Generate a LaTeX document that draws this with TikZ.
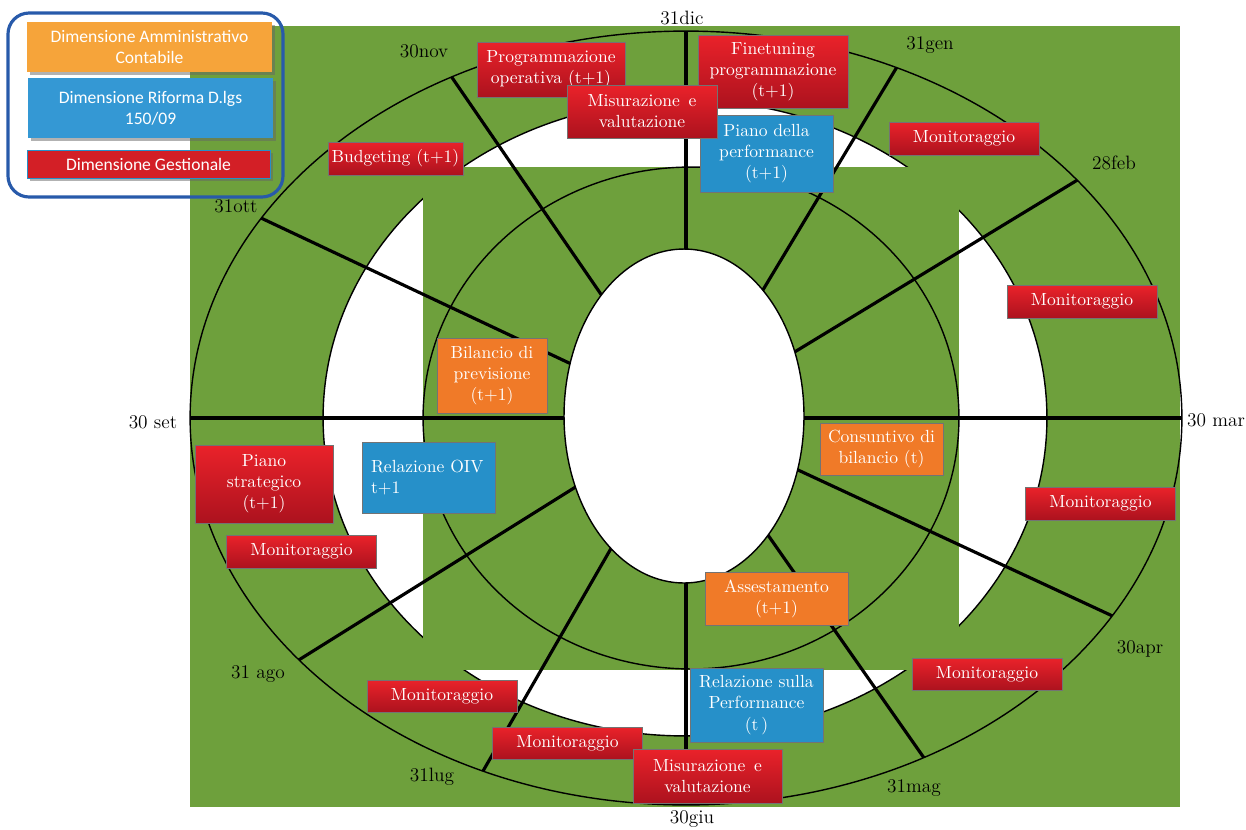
\documentclass[tikz,border=0pt]{standalone}
\usepackage{fontspec}
\newfontfamily\legendfont{Carlito}
\usetikzlibrary{positioning,shadows}
\definecolor{fondo}{RGB}{110,160,60}
\definecolor{rosso}{RGB}{234,34,42}
\definecolor{rossoscuro}{RGB}{172,18,30}
\definecolor{azzurro}{RGB}{38,144,201}
\definecolor{arancio}{RGB}{240,122,40}
\definecolor{legarancio}{RGB}{246,164,58}
\definecolor{legazzurro}{RGB}{52,152,212}
\definecolor{cornice}{RGB}{40,90,170}

\begin{document}
\begin{tikzpicture}[x=0.02cm, y=-0.02cm,
  mese/.style={inner sep=1pt, font=\fontsize{11}{13}\selectfont},
  casella/.style={text=white, align=center, inner sep=1pt, draw=black!55, line width=0.4pt},
  boxrossa/.style={casella, top color=rosso, bottom color=rossoscuro},
  boxazzurra/.style={casella, fill=azzurro},
  boxarancio/.style={casella, fill=arancio},
  monit/.style={boxrossa, minimum width=3cm, minimum height=0.66cm},
  legenda/.style={font=\legendfont, text=white, align=center, inner sep=1pt,
    drop shadow={shadow xshift=1.5pt, shadow yshift=-1.5pt, fill=black!60}},
  raggio/.style={line width=1.8pt},
  ellisse/.style={line width=0.8pt}]

\useasboundingbox (0,0) rectangle (1246,829);

% sfondo e anelli
\fill[fondo] (190,26) rectangle (1180,807);
\filldraw[fill=white, draw=black, ellisse] (685,418) ellipse [x radius=7.24cm, y radius=6.36cm];
\fill[fondo] (423,167) rectangle (959,670);
\draw[ellisse] (691,418) ellipse [x radius=5.36cm, y radius=5.02cm];
\draw[ellisse] (686,418) ellipse [x radius=9.92cm, y radius=7.74cm];

% raggi dei mesi
\coordinate (centro) at (686,418);
\begin{scope}
\clip (centro) ellipse [x radius=9.92cm, y radius=7.74cm];
\foreach \a in {-90,-59,-31.3,0,24.9,55,90,119.9,148,180,-154.8,-124.5}
  \draw[raggio] (centro) -- ++(\a:600);
\end{scope}
\filldraw[fill=white, draw=black, ellisse] (684,416) ellipse [x radius=2.4cm, y radius=3.34cm];

% mesi
\node[mese] (dic) at (682,18) {31dic};
\node[mese] (gen) at (930,45) {31gen};
\node[mese] (feb) at (1114,163) {28feb};
\node[mese] (mar) at (1216,420) {30 mar};
\node[mese] (apr) at (1140,649) {30apr};
\node[mese] (mag) at (914,788) {31mag};
\node[mese] (giu) at (692,819) {30giu};
\node[mese] (lug) at (432,777) {31lug};
\node[mese] (ago) at (258,674) {31 ago};
\node[mese] (set) at (153,422) {30 set};
\node[mese] (ott) at (236,206) {31ott};
\node[mese] (nov) at (424,51) {30nov};

% attivita
\node[boxrossa, minimum width=2.96cm, minimum height=1.1cm] (progop) at (551,69.5) {Programmazione\\operativa (t+1)};
\node[boxrossa, minimum width=3cm, minimum height=1.46cm] (finet) at (773,71.5) {Finetuning\\programmazione\\(t+1)};
\node[boxazzurra, minimum width=2.66cm, minimum height=1.54cm] (pianoperf) at (766.5,153.5) {Piano della\\performance\\(t+1)};
\node[boxrossa, minimum width=3cm, minimum height=1.06cm] (misur) at (642,111.5) {Misurazione\enspace e\\valutazione};
\node[monit] (mongen) at (964,138.5) {Monitoraggio};
\node[boxrossa, minimum width=2.7cm, minimum height=0.66cm] (budget) at (395.5,158.5) {Budgeting (t+1)};
\node[monit] (monmar) at (1082,301.5) {Monitoraggio};
\node[boxarancio, minimum width=2.2cm, minimum height=1.5cm] (bilprev) at (492,375.5) {Bilancio di\\previsione\\(t+1)};
\node[boxarancio, minimum width=2.46cm, minimum height=1.04cm] (consunt) at (881.5,449) {Consuntivo di\\bilancio (t)};
\node[monit] (monapr) at (1100.5,503.5) {Monitoraggio};
\node[boxrossa, minimum width=2.76cm, minimum height=1.56cm] (pianostr) at (264,484) {Piano\\strategico\\(t+1)};
\node[boxazzurra, align=left, text width=2.3cm, minimum width=2.66cm, minimum height=1.42cm] (oiv) at (428.5,477.5) {Relazione OIV\\t+1};
\node[monit] (monset) at (301.5,551.5) {Monitoraggio};
\node[boxarancio, minimum width=2.86cm, minimum height=1.06cm] (assest) at (776.5,598.5) {Assestamento\\(t+1)};
\node[boxazzurra, minimum width=2.66cm, minimum height=1.48cm] (relperf) at (756.5,705) {Relazione sulla\\Performance\\(t\,)};
\node[monit, minimum height=0.64cm] (monmag) at (987,674) {Monitoraggio};
\node[monit, minimum height=0.64cm] (monago) at (442,696) {Monitoraggio};
\node[monit, minimum height=0.64cm] (monlug) at (567.5,743) {Monitoraggio};
\node[boxrossa, minimum width=2.98cm, minimum height=1.08cm] (misurgiu) at (707.5,776) {Misurazione\enspace e\\valutazione};

% legenda
\draw[cornice, line width=1.8pt, rounded corners=12pt] (8,13) rectangle (283,197);
\node[legenda, fill=legarancio, minimum width=4.9cm, minimum height=1cm] (legamm) at (149.5,47) {Dimensione Amministrativo\\Contabile};
\node[legenda, fill=legazzurro, minimum width=4.9cm, minimum height=1.2cm] (legrif) at (150.5,108) {Dimensione Riforma D.lgs\\150/09};
\node[legenda, fill=rosso!90!black, draw=azzurro, minimum width=4.86cm, minimum height=0.56cm] (legges) at (148.5,164) {Dimensione Gestionale};

\end{tikzpicture}
\end{document}
